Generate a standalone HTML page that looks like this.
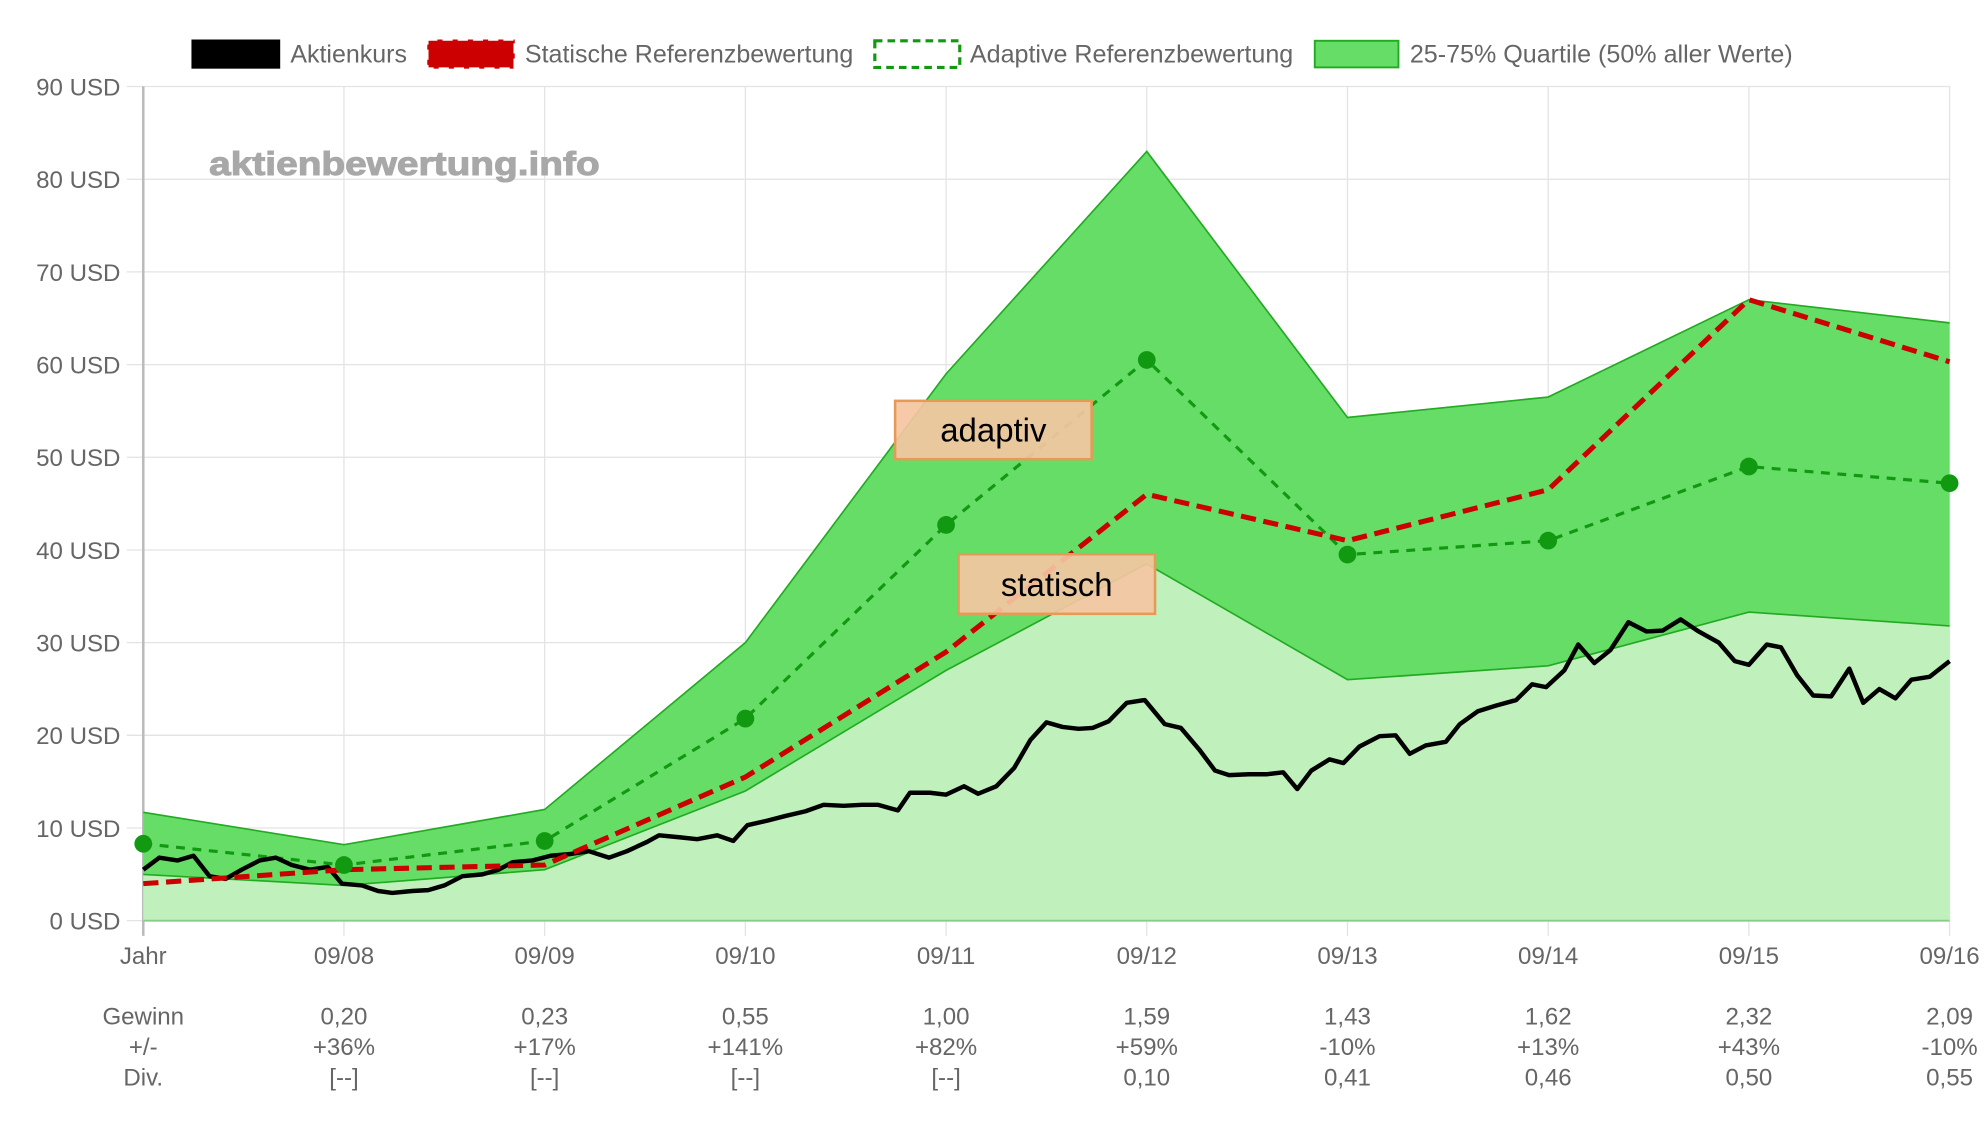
<!DOCTYPE html>
<html><head><meta charset="utf-8"><style>
html,body{margin:0;padding:0;background:#fff;}
svg{display:block;font-family:"Liberation Sans",sans-serif;}
</style></head><body>
<svg id="chart" width="1988" height="1125" viewBox="0 0 1568 887" xmlns="http://www.w3.org/2000/svg">
<g id="grid"></g>
<g id="areas"></g>
<g id="lines"></g>
<g id="axes"></g>
<text x="165" y="138" font-size="26" font-weight="bold" fill="#a8a8a8" textLength="308" lengthAdjust="spacingAndGlyphs" stroke="#a8a8a8" stroke-width="0.8">aktienbewertung.info</text>
<g font-size="19.4" fill="#666">
 <g><rect x="151" y="31" width="70" height="23" fill="#000"/><text x="229" y="49" textLength="92" lengthAdjust="spacingAndGlyphs">Aktienkurs</text></g>
 <g><rect x="337" y="31" width="69" height="23" fill="#cc0000" stroke="#fff" stroke-width="2" stroke-dasharray="8 4"/><text x="414" y="49" textLength="259" lengthAdjust="spacingAndGlyphs">Statische Referenzbewertung</text></g>
 <g><rect x="690" y="32" width="67" height="21" fill="#fff" stroke="#119911" stroke-width="2.5" stroke-dasharray="6 4"/><text x="765" y="49" textLength="255" lengthAdjust="spacingAndGlyphs">Adaptive Referenzbewertung</text></g>
 <g><rect x="1037" y="32" width="66" height="21" fill="#66dd66" stroke="#22aa22" stroke-width="1.5"/><text x="1112" y="49" textLength="302" lengthAdjust="spacingAndGlyphs">25-75% Quartile (50% aller Werte)</text></g>
</g>
<g><rect x="706" y="316" width="155" height="46" fill="#f5c6a2" fill-opacity="0.92" stroke="#e59a55" stroke-width="2"/><text x="783.5" y="348" font-size="26" text-anchor="middle" fill="#000">adaptiv</text></g>
<g><rect x="756" y="437" width="155" height="47" fill="#f5c6a2" fill-opacity="0.92" stroke="#e59a55" stroke-width="2"/><text x="833.5" y="470" font-size="26" text-anchor="middle" fill="#000">statisch</text></g>
<g id="table" font-size="19" fill="#666" text-anchor="middle"></g>
</svg>
<script>
const categories=["Jahr","09/08","09/09","09/10","09/11","09/12","09/13","09/14","09/15","09/16"];
const yTicks=[0,10,20,30,40,50,60,70,80,90];
const upperQ=[11.7,8.2,12,30,59,83,54.3,56.5,67,64.5];
const lowerQ=[5,3.8,5.5,14,27,38.5,26,27.5,33.3,31.8];
const statisch=[4,5.5,6,15.5,29,46,41,46.5,67,60.3];
const adaptiv=[8.3,6,8.6,21.8,42.7,60.5,39.5,41,49,47.2];
const gewinn=["0,20","0,23","0,55","1,00","1,59","1,43","1,62","2,32","2,09"];
const change=["+36%","+17%","+141%","+82%","+59%","-10%","+13%","+43%","-10%"];
const div=["[--]","[--]","[--]","[--]","0,10","0,41","0,46","0,50","0,55"];
const priceT=[0,.08,.17,.25,.33,.41,.49,.58,.66,.74,.83,.92,.99,1.09,1.17,1.24,1.34,1.42,1.5,1.59,1.69,1.77,1.84,1.94,2.03,2.13,2.22,2.32,2.41,2.51,2.57,2.67,2.76,2.86,2.94,3.01,3.11,3.2,3.3,3.39,3.49,3.58,3.66,3.76,3.82,3.92,4,4.09,4.16,4.25,4.34,4.42,4.5,4.58,4.66,4.73,4.81,4.9,4.99,5.09,5.17,5.26,5.34,5.41,5.51,5.6,5.68,5.75,5.82,5.91,5.98,6.06,6.16,6.24,6.31,6.39,6.49,6.56,6.65,6.74,6.84,6.92,6.99,7.08,7.15,7.23,7.31,7.4,7.49,7.57,7.66,7.75,7.85,7.93,8,8.09,8.16,8.24,8.32,8.41,8.5,8.57,8.65,8.73,8.81,8.9,9];
const priceV=[5.5,6.8,6.5,7,4.8,4.5,5.5,6.5,6.8,6,5.5,5.8,4,3.8,3.2,3,3.2,3.3,3.8,4.8,5,5.5,6.3,6.5,7,7.2,7.5,6.8,7.5,8.5,9.2,9,8.8,9.2,8.6,10.3,10.8,11.3,11.8,12.5,12.4,12.5,12.5,11.9,13.8,13.8,13.6,14.5,13.7,14.5,16.5,19.5,21.4,20.9,20.7,20.8,21.5,23.5,23.8,21.2,20.8,18.5,16.2,15.7,15.8,15.8,16,14.2,16.2,17.4,17,18.8,19.9,20,18,18.9,19.3,21.2,22.6,23.2,23.8,25.5,25.2,27,29.8,27.8,29.2,32.2,31.2,31.3,32.5,31.2,30,28,27.6,29.8,29.5,26.5,24.3,24.2,27.2,23.5,25,24,26,26.3,28];

const NS="http://www.w3.org/2000/svg";
const X0=113,XSTEP=158.3,Y0=726,YPER=7.31;
const xs=i=>X0+i*XSTEP;
const ys=v=>Y0-v*YPER;
function mk(tag,parent,attrs){const e=document.createElementNS(NS,tag);for(const k in attrs)e.setAttribute(k,attrs[k]);document.getElementById(parent).appendChild(e);return e;}
const pts=arr=>arr.map((v,i)=>xs(i).toFixed(1)+","+ys(v).toFixed(1));

yTicks.forEach(v=>{
 const l=mk('line','grid',{x1:100,x2:1538,y1:ys(v),y2:ys(v),stroke:'#e3e3e3','stroke-width':1});
 
 
 const t=mk('text','axes',{x:95,y:ys(v)+7,'font-size':19,fill:'#666','text-anchor':'end'});
 t.textContent=v+" USD";
 
 
});
categories.forEach((c,i)=>{
 const l=mk('line','grid',{x1:xs(i),x2:xs(i),y1:68,y2:738,stroke:i==0?'#bbb':'#e3e3e3','stroke-width':i==0?2:1});
 
 
 const t=mk('text','axes',{x:xs(i),y:760,'font-size':19,fill:'#666','text-anchor':'middle'});
 t.textContent=c;
 
 
});
const lowPts=pts(lowerQ);
const light=mk('polygon','areas',{points:lowPts.join(" ")+" "+xs(lowerQ.length-1)+","+Y0+" "+xs(0)+","+Y0,fill:'#c0f0bc',stroke:'none'});


const band=mk('polygon','areas',{points:pts(upperQ).join(" ")+" "+lowPts.slice().reverse().join(" "),fill:'#66dd66',stroke:'none'});


const ul=mk('polyline','areas',{points:pts(upperQ).join(" "),fill:'none',stroke:'#22aa22','stroke-width':1.3});


const ll=mk('polyline','areas',{points:lowPts.join(" "),fill:'none',stroke:'#22aa22','stroke-width':1.3});


const base=mk('line','areas',{x1:xs(0),x2:xs(9),y1:Y0,y2:Y0,stroke:'#8c8','stroke-width':1.5});



const ad=mk('polyline','lines',{points:pts(adaptiv).join(" "),fill:'none',stroke:'#119911','stroke-width':2.5,'stroke-dasharray':'7 6'});


const pricePts=priceV.map((v,i)=>(X0+priceT[i]*XSTEP).toFixed(1)+","+ys(v).toFixed(1));
const pl=mk('polyline','lines',{points:pricePts.join(" "),fill:'none',stroke:'#000','stroke-width':3.5,'stroke-linejoin':'round'});


const st=mk('polyline','lines',{points:pts(statisch).join(" "),fill:'none',stroke:'#cc0000','stroke-width':4,'stroke-dasharray':'12 6'});


adaptiv.forEach((v,i)=>{
 const c=mk('circle','lines',{cx:xs(i),cy:ys(v),r:7,fill:'#119911'});
 
 
});
[["Gewinn",801],["+/-",825],["Div.",849]].forEach(([lab,y])=>{
 const t=mk('text','table',{x:xs(0),y:y+7});t.textContent=lab;
 
 
});
[[gewinn,801],[change,825],[div,849]].forEach(([arr,y])=>{
 arr.forEach((s,i)=>{
  const t=mk('text','table',{x:xs(i+1),y:y+7});t.textContent=s;
  
  
 });
});
</script>
</body></html>
